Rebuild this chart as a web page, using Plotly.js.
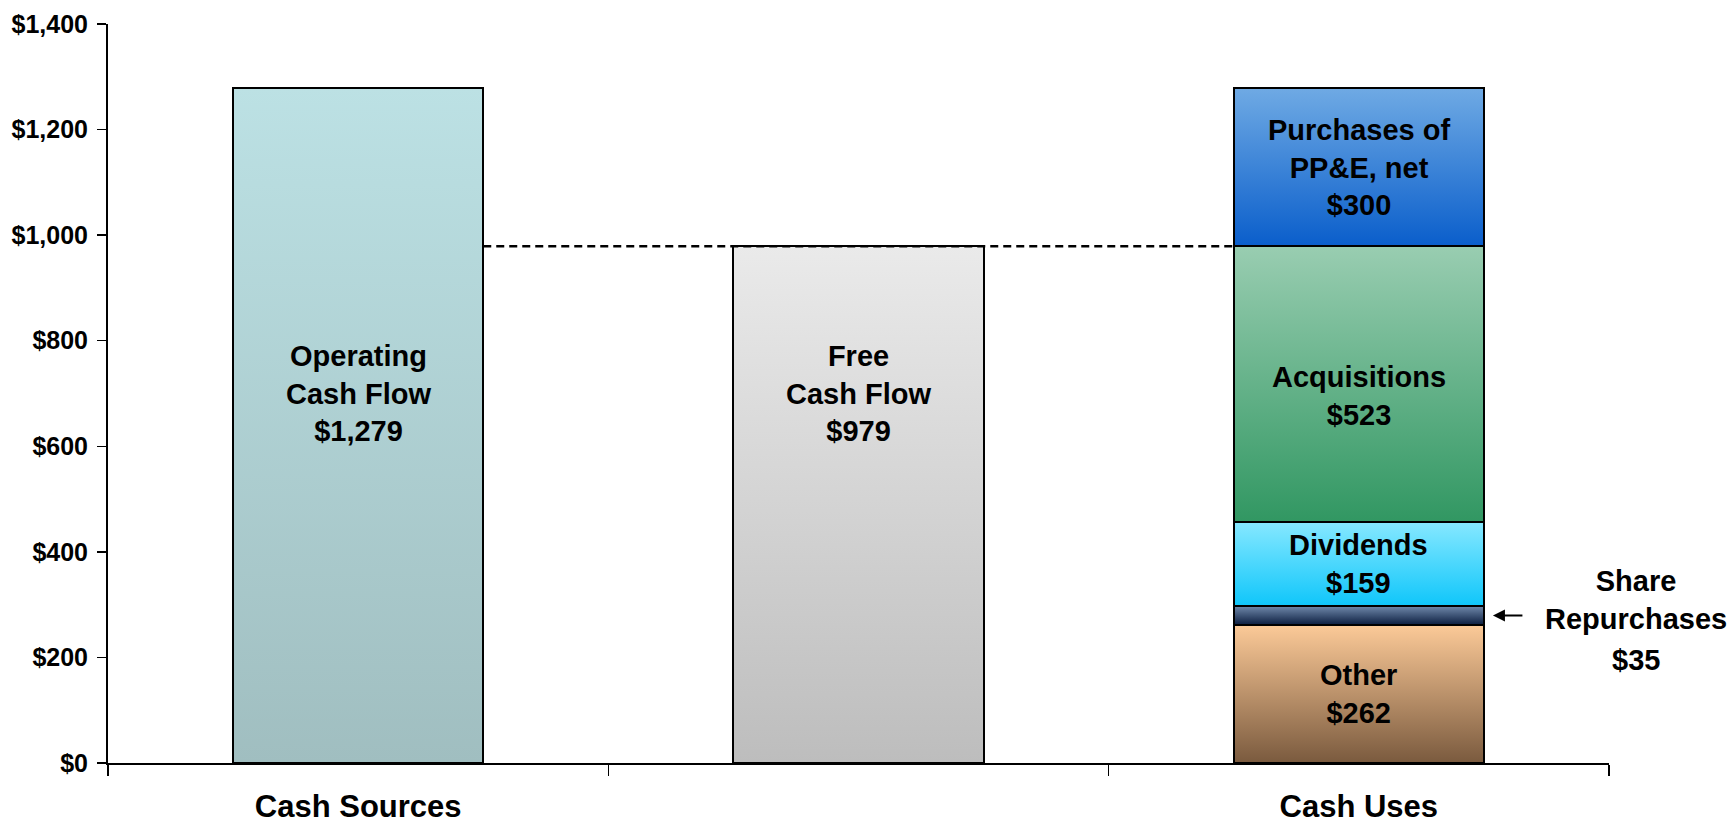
<!DOCTYPE html>
<html>
<head>
<meta charset="utf-8">
<script src="https://cdn.plot.ly/plotly-3.0.1.min.js"></script>
<style>html,body{margin:0;padding:0;background:#fff;}#chart{width:1734px;height:828px;}</style>
</head>
<body>
<div id="chart"></div>
<script>
// ---- data ----
const categories = ['Cash Sources', '', 'Cash Uses'];
const sourceLabels = ['Operating<br>Cash Flow', 'Free<br>Cash Flow'];
const sourceValues = [1279, 979];
const useLabels = ['Other', 'Share Repurchases', 'Dividends', 'Acquisitions', 'Purchases of<br>PP&E, net'];
const useValues = [262, 35, 159, 523, 300];
const yTicks = [0, 200, 400, 600, 800, 1000, 1200, 1400];

// ---- styles ----
const barWidth = 0.5;
const sourceGrad = [['#BCE1E4', '#A0BEC0'], ['#EAEAEA', '#BDBDBD']];
const useGrad = [['#FCCA98', '#7A5A3E'], ['#6F88AA', '#0C1E40'], ['#86E8FF', '#0FC6FA'], ['#99CDB1', '#319762'], ['#6FAAE4', '#0A5ECB']];
const fontFam = 'Arial, "Liberation Sans", Helvetica, sans-serif';
const lblFont = {family: fontFam, size: 29, color: '#000', weight: 'bold'};

const fmt = v => '$' + v.toLocaleString('en-US');

const traces = [];
const grads = [];
sourceValues.forEach((v, i) => {
  traces.push({type: 'bar', x: [i], y: [v], width: barWidth, name: sourceLabels[i],
    marker: {color: sourceGrad[i][1], line: {color: '#000', width: 2}}, hoverinfo: 'skip'});
  grads.push(sourceGrad[i]);
});
useValues.forEach((v, i) => {
  traces.push({type: 'bar', x: [2], y: [v], width: barWidth, name: useLabels[i],
    marker: {color: useGrad[i][1], line: {color: '#000', width: 2}}, hoverinfo: 'skip'});
  grads.push(useGrad[i]);
});
// dashed connector at free cash flow level
traces.push({type: 'scatter', mode: 'lines', x: [0 + barWidth / 2, 2 - barWidth / 2],
  y: [sourceValues[1], sourceValues[1]], line: {color: '#000', width: 2.5, dash: '8px,5px'}, hoverinfo: 'skip'});

// annotations
const annotations = [];
const sourceLabelY = [700, 700];
sourceValues.forEach((v, i) => {
  annotations.push({x: i, y: sourceLabelY[i], xref: 'x', yref: 'y', showarrow: false,
    text: sourceLabels[i] + '<br>' + fmt(v), font: lblFont, align: 'center'});
});
let base = 0;
const useMid = [];
useValues.forEach((v, i) => { useMid.push(base + v / 2); base += v; });
const useLabelY = [useMid[0], null, useMid[2], 696, useMid[4]];
useValues.forEach((v, i) => {
  if (i === 1) return;
  annotations.push({x: 2, y: useLabelY[i], xref: 'x', yref: 'y', showarrow: false,
    text: useLabels[i] + '<br>' + fmt(v), font: lblFont, align: 'center'});
});
// share repurchases callout
annotations.push({x: 1.018, y: 309, xref: 'paper', yref: 'y', showarrow: false,
  text: 'Share<br>Repurchases', font: lblFont, align: 'center', xanchor: 'center'});
annotations.push({x: 1.018, y: 195, xref: 'paper', yref: 'y', showarrow: false,
  text: fmt(useValues[1]), font: lblFont, align: 'center', xanchor: 'center'});
annotations.push({x: 2 + barWidth / 2 + 0.018, y: useMid[1], xref: 'x', yref: 'y', text: '',
  showarrow: true, ax: 31, ay: 0, arrowhead: 2, arrowsize: 1.2, arrowwidth: 2, arrowcolor: '#000', standoff: 0});

const layout = {
  width: 1734, height: 828,
  margin: {l: 108, r: 125, t: 24, b: 65},
  paper_bgcolor: '#fff', plot_bgcolor: '#fff',
  barmode: 'stack', showlegend: false,
  font: {family: fontFam, color: '#000'},
  xaxis: {range: [-0.5, 2.5], tickmode: 'array', tickvals: [0, 1, 2], ticktext: categories,
    ticks: '', showgrid: false, zeroline: false, showline: true, linecolor: '#000', linewidth: 1.5,
    tickfont: {family: fontFam, size: 31, color: '#000', weight: 'bold'}, ticklabelstandoff: 15,
    minor: {tickmode: 'array', tickvals: [-0.5, 0.5, 1.5, 2.5], ticks: 'outside', ticklen: 11, tickwidth: 1.5, tickcolor: '#000', showgrid: false},
    fixedrange: true},
  yaxis: {range: [0, 1400], tickmode: 'array', tickvals: yTicks, ticktext: yTicks.map(fmt),
    ticks: 'outside', ticklen: 9, tickwidth: 1.5, tickcolor: '#000',
    showgrid: false, zeroline: false, showline: true, linecolor: '#000', linewidth: 2,
    tickfont: {family: fontFam, size: 25, color: '#000', weight: 'bold'}, ticklabelstandoff: 4,
    fixedrange: true},
  annotations: annotations
};

function applyGradients(gd) {
  const svg = gd.querySelector('svg.main-svg');
  if (!svg) return;
  let defs = svg.querySelector('defs');
  const ns = 'http://www.w3.org/2000/svg';
  if (!defs) { defs = document.createElementNS(ns, 'defs'); svg.insertBefore(defs, svg.firstChild); }
  grads.forEach((g, i) => {
    const id = 'bargrad' + i;
    if (!svg.querySelector('#' + id)) {
      const lg = document.createElementNS(ns, 'linearGradient');
      lg.setAttribute('id', id);
      lg.setAttribute('x1', '0'); lg.setAttribute('y1', '0');
      lg.setAttribute('x2', '0'); lg.setAttribute('y2', '1');
      [[0, g[0]], [1, g[1]]].forEach(([o, c]) => {
        const s = document.createElementNS(ns, 'stop');
        s.setAttribute('offset', o); s.setAttribute('stop-color', c);
        lg.appendChild(s);
      });
      defs.appendChild(lg);
    }
  });
  const barTraces = gd.querySelectorAll('.barlayer .trace');
  barTraces.forEach((t, i) => {
    if (i >= grads.length) return;
    t.querySelectorAll('.point path').forEach(p => { p.style.fill = 'url(#bargrad' + i + ')'; });
  });
}

const gd = document.getElementById('chart');
Plotly.newPlot(gd, traces, layout, {displayModeBar: false, staticPlot: true}).then(() => {
  applyGradients(gd);
  gd.on('plotly_afterplot', () => applyGradients(gd));
});
</script>
</body>
</html>
